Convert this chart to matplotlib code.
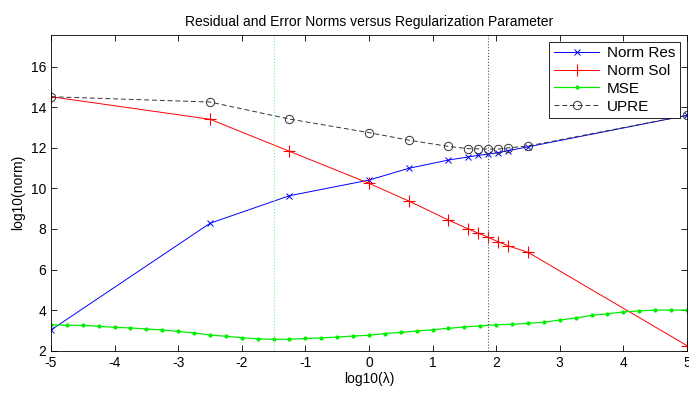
import matplotlib
matplotlib.use("Agg")
import matplotlib.pyplot as plt
import numpy as np

plt.rcParams['font.family'] = ['Liberation Sans', 'DejaVu Sans']
plt.rcParams['axes.unicode_minus'] = False

# search points (log10 lambda)
lam = [-5, -2.5, -1.25, 0, 0.625, 1.25, 1.5625, 1.71875, 1.875, 2.03125, 2.1875, 2.5, 5]
norm_res = [3.02, 8.28, 9.64, 10.41, 10.99, 11.40, 11.55, 11.63, 11.69, 11.76, 11.86, 12.05, 13.60]
norm_sol = [14.52, 13.41, 11.83, 10.25, 9.38, 8.44, 8.00, 7.79, 7.59, 7.37, 7.17, 6.85, 2.25]
upre = [14.52, 14.26, 13.42, 12.75, 12.38, 12.07, 11.96, 11.95, 11.94, 11.94, 12.00, 12.09, 13.60]

# MSE on a regular grid
mse_lam = [-5, -4.75, -4.5, -4.25, -4, -3.75, -3.5, -3.25, -3, -2.75, -2.5, -2.25, -2, -1.75,
           -1.5, -1.25, -1, -0.75, -0.5, -0.25, 0, 0.25, 0.5, 0.75, 1, 1.25, 1.5, 1.75, 2,
           2.25, 2.5, 2.75, 3, 3.25, 3.5, 3.75, 4, 4.25, 4.5, 4.75, 5]
mse = [3.28, 3.25, 3.25, 3.20, 3.15, 3.12, 3.07, 3.02, 2.95, 2.87, 2.77, 2.71, 2.64, 2.58,
       2.56, 2.56, 2.60, 2.63, 2.67, 2.72, 2.76, 2.84, 2.90, 2.97, 3.03, 3.10, 3.17, 3.22, 3.28,
       3.30, 3.35, 3.40, 3.51, 3.61, 3.74, 3.82, 3.91, 3.96, 4.00, 4.00, 4.00]

mse_opt = -1.5
upre_opt = 1.875

xticks = [-5, -4, -3, -2, -1, 0, 1, 2, 3, 4, 5]
yticks = [2, 4, 6, 8, 10, 12, 14, 16]

fig = plt.figure(figsize=(6.89, 3.94), dpi=100)
ax = fig.add_axes([0.074, 0.11, 0.923, 0.802])

ax.plot(lam, norm_res, color='blue', marker='x', lw=0.7, ms=5, mew=0.7, label='Norm Res')
ax.plot(lam, norm_sol, color='red', marker='+', lw=0.7, ms=8, mew=0.8, label='Norm Sol')
ax.plot(mse_lam, mse, color='#00ee00', marker='.', lw=0.9, ms=4, label='MSE')
ax.plot(lam, upre, color='#333333', marker='o', ls='--', dashes=(5, 3), lw=0.7, ms=6,
        mfc='none', mew=0.7, label='UPRE')

ax.axvline(mse_opt, color='#88ee88', ls=':', lw=0.8)
ax.axvline(upre_opt, color='#555555', ls=':', lw=0.8)

ax.set_xlim(-5, 5)
ax.set_ylim(2, 17.58)
ax.set_xticks(xticks)
ax.set_yticks(yticks)
ax.tick_params(direction='in', top=True, right=True, labelsize=10, length=4, width=0.6,
               colors='black')
for s in ax.spines.values():
    s.set_linewidth(0.6)

ax.set_title('Residual and Error Norms versus Regularization Parameter', fontsize=10)
ax.set_xlabel('log10(λ)', fontsize=10, labelpad=2)
ax.set_ylabel('log10(norm)', fontsize=10, labelpad=4)

leg = ax.legend(loc='upper right', fontsize=11, handlelength=3.0, fancybox=False,
                framealpha=1, edgecolor='black', borderaxespad=0.45,
                labelspacing=0.25, borderpad=0.3, handletextpad=0.5)
leg.get_frame().set_linewidth(0.6)

fig.savefig('out.png', dpi=100)
